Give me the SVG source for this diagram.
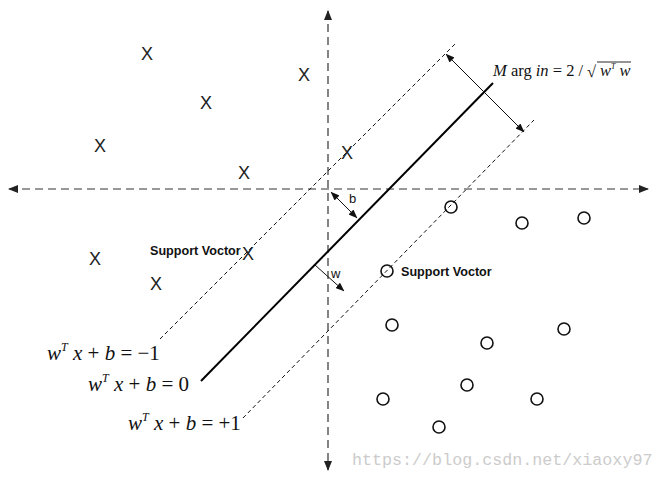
<svg xmlns="http://www.w3.org/2000/svg" width="663" height="478" viewBox="0 0 663 478">
<defs>
<marker id="ah" markerWidth="10" markerHeight="8" refX="9" refY="4" orient="auto-start-reverse" markerUnits="userSpaceOnUse">
<path d="M0,0 L10,4 L0,8 Z" fill="#222"/>
</marker>
<marker id="sh" markerWidth="9" markerHeight="7" refX="8.5" refY="3.5" orient="auto-start-reverse" markerUnits="userSpaceOnUse">
<path d="M0,0 L9,3.5 L0,7 Z" fill="#111"/>
</marker>
</defs>
<style>
.axis{stroke:#333;stroke-width:1.2;stroke-dasharray:8,5;fill:none}
.hyp{stroke:#111;stroke-width:1;stroke-dasharray:4,3;fill:none}
.main{stroke:#000;stroke-width:2;fill:none}
.thin{stroke:#111;stroke-width:1;fill:none}
.x{font-family:"Liberation Sans",Arial,sans-serif;font-size:18px;fill:#222;text-anchor:middle}
.o{fill:none;stroke:#111;stroke-width:1.6}
.sv{font-family:"Liberation Sans",Arial,sans-serif;font-size:12.6px;font-weight:bold;fill:#111}
.eq{font-family:"Liberation Serif","Times New Roman",serif;font-size:21px;fill:#111}
.m{font-family:"Liberation Serif","Times New Roman",serif;font-size:16.5px;fill:#111}
.lbl{font-family:"Liberation Sans",Arial,sans-serif;font-size:13px;fill:#111}
.wm{font-family:"Liberation Mono","Courier New",monospace;font-size:16.7px;fill:#ccc}
</style>
<rect width="663" height="478" fill="#fff"/>
<g id="connectors">
<line class="axis" x1="9" y1="189" x2="648" y2="189" marker-start="url(#ah)" marker-end="url(#ah)"/>
<line class="axis" x1="328" y1="11" x2="328" y2="470" marker-start="url(#ah)" marker-end="url(#ah)"/>
<line class="hyp" x1="160" y1="339" x2="457" y2="42"/>
<line class="main" x1="201" y1="381" x2="493" y2="83"/>
<line class="hyp" x1="243" y1="418" x2="534" y2="120"/>
<line class="thin" x1="446" y1="54" x2="524" y2="132" marker-start="url(#sh)" marker-end="url(#sh)"/>
<line class="thin" x1="331" y1="192" x2="357" y2="218" marker-start="url(#sh)" marker-end="url(#sh)"/>
<line class="thin" x1="315" y1="265" x2="344" y2="291" marker-end="url(#sh)"/>
</g>
<g id="x-points">
<text class="x" x="147" y="60">X</text>
<text class="x" x="206" y="109">X</text>
<text class="x" x="304" y="81">X</text>
<text class="x" x="100" y="152">X</text>
<text class="x" x="244" y="179">X</text>
<text class="x" x="347" y="159">X</text>
<text class="x" x="95" y="265">X</text>
<text class="x" x="156" y="290">X</text>
<text class="x" x="248" y="260">X</text>
</g>
<g id="o-points">
<circle class="o" cx="451" cy="207" r="6"/>
<circle class="o" cx="522" cy="223" r="6"/>
<circle class="o" cx="584" cy="218" r="6"/>
<circle class="o" cx="387" cy="271" r="6"/>
<circle class="o" cx="392" cy="325" r="6"/>
<circle class="o" cx="487" cy="343" r="6"/>
<circle class="o" cx="564" cy="329" r="6"/>
<circle class="o" cx="467" cy="385" r="6"/>
<circle class="o" cx="383" cy="399" r="6"/>
<circle class="o" cx="537" cy="399" r="6"/>
<circle class="o" cx="439" cy="427" r="6"/>
</g>
<g id="labels">
<text class="sv" x="150" y="255">Support Voctor</text>
<text class="sv" x="401" y="276">Support Voctor</text>
<text class="lbl" x="349" y="203">b</text>
<text class="lbl" x="331" y="278">w</text>
<text class="m" x="493" y="76"><tspan font-style="italic">M</tspan> arg <tspan font-style="italic">in</tspan> = 2 /</text>
<text class="m" x="587" y="77" font-size="18">√</text>
<line x1="597" y1="62" x2="631" y2="62" stroke="#111" stroke-width="0.9"/>
<text class="m" x="600" y="76" font-style="italic">w<tspan font-size="8" dy="-7">T</tspan><tspan dy="7"> w</tspan></text>
<text class="eq" x="47" y="360"><tspan font-style="italic">w</tspan><tspan font-style="italic" font-size="12" dy="-9">T</tspan><tspan dy="9"> </tspan><tspan font-style="italic">x</tspan> + <tspan font-style="italic">b</tspan> = −1</text>
<text class="eq" x="88" y="391"><tspan font-style="italic">w</tspan><tspan font-style="italic" font-size="12" dy="-9">T</tspan><tspan dy="9"> </tspan><tspan font-style="italic">x</tspan> + <tspan font-style="italic">b</tspan> = 0</text>
<text class="eq" x="128" y="430"><tspan font-style="italic">w</tspan><tspan font-style="italic" font-size="12" dy="-9">T</tspan><tspan dy="9"> </tspan><tspan font-style="italic">x</tspan> + <tspan font-style="italic">b</tspan> = +1</text>
<text class="wm" x="352" y="465">https://blog.csdn.net/xiaoxy97</text>
</g>
</svg>
